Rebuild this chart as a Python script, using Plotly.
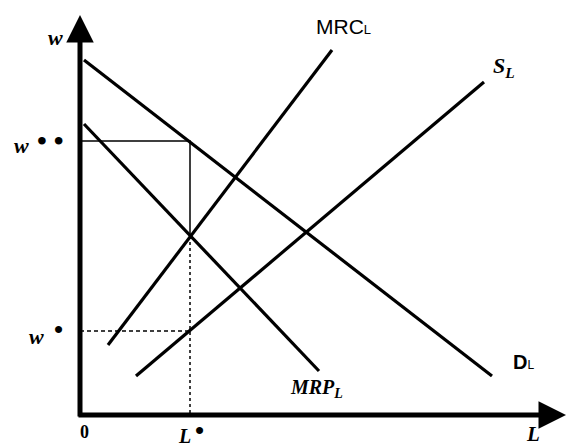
import plotly.graph_objects as go

# Curve endpoints (L, w)
D_L_x = [0.4, 41.2]
D_L_y = [35.5, 3.9]
MRP_x = [0.4, 23.9]
MRP_y = [29.1, 4.4]
MRC_x = [2.8, 25.2]
MRC_y = [7.0, 36.5]
S_L_x = [5.6, 40.4]
S_L_y = [3.9, 33.3]

L_star = 11.0
w_star = 8.4
w_2star = 27.4
w_int = 17.9

X_MIN, X_MAX = -8.0, 48.8
Y_MIN, Y_MAX = -3.2, 41.5
X_TIP, Y_TIP = 48.6, 40.0

fig = go.Figure()

line_style = dict(color="black", width=3.2)
for xs, ys in [(D_L_x, D_L_y), (MRP_x, MRP_y), (MRC_x, MRC_y), (S_L_x, S_L_y)]:
    fig.add_trace(go.Scatter(x=xs, y=ys, mode="lines", line=line_style,
                             hoverinfo="skip", showlegend=False))

# w** horizontal and vertical solid thin lines
fig.add_trace(go.Scatter(x=[0, L_star, L_star], y=[w_2star, w_2star, w_int], mode="lines",
                         line=dict(color="black", width=1.5), showlegend=False, hoverinfo="skip"))
# dotted vertical below intersection
fig.add_trace(go.Scatter(x=[L_star, L_star], y=[w_int, 0], mode="lines",
                         line=dict(color="black", width=1.5, dash="dot"), showlegend=False, hoverinfo="skip"))
# dashed horizontal w*
fig.add_trace(go.Scatter(x=[0, L_star], y=[w_star, w_star], mode="lines",
                         line=dict(color="black", width=1.5, dash="4px,3px"), showlegend=False, hoverinfo="skip"))

# axes with arrows
fig.add_annotation(x=0, y=Y_TIP, ax=0, ay=-0.3, xref="x", yref="y", axref="x", ayref="y",
                   showarrow=True, arrowhead=2, arrowwidth=5, arrowsize=1.1, arrowcolor="black", text="")
fig.add_annotation(x=X_TIP, y=0, ax=-0.3, ay=0, xref="x", yref="y", axref="x", ayref="y",
                   showarrow=True, arrowhead=2, arrowwidth=5, arrowsize=1.1, arrowcolor="black", text="")

serif = "Liberation Serif"
sans = "Liberation Sans"

def label(x, y, text, family, size, color="black"):
    fig.add_annotation(x=x, y=y, xref="x", yref="y", text=text, showarrow=False,
                       font=dict(family=family, size=size, color=color),
                       xanchor="center", yanchor="middle")

label(-2.5, 37.8, "<b><i>w</i></b>", serif, 22)
# w**
label(-5.9, 27.0, "<b><i>w</i></b>", serif, 22)
label(-3.0, 27.5, "<b>• •</b>", serif, 28)
# w*
label(-4.4, 7.9, "<b><i>w</i></b>", serif, 22)
label(-2.2, 8.6, "<b>•</b>", serif, 26)
label(0.4, -1.7, "<b>0</b>", serif, 18)
# L*
label(10.4, -2.1, "<b><i>L</i></b>", serif, 20)
label(11.9, -1.5, "<b>•</b>", serif, 26)
label(45.3, -1.9, "<b><i>L</i></b>", serif, 21)
label(26.3, 38.9, "MRC<span style='font-size:13px'>L</span>", sans, 21)
label(42.4, 34.8, "<b><i>S<sub>L</sub></i></b>", serif, 22)
label(44.3, 5.3, "<b>D</b><span style='font-size:12px'>L</span>", sans, 20)
label(23.6, 2.7, "<b><i>MRP<sub>L</sub></i></b>", serif, 20)

fig.update_xaxes(range=[X_MIN, X_MAX], visible=False)
fig.update_yaxes(range=[Y_MIN, Y_MAX], visible=False)
fig.update_layout(width=568, height=447, margin=dict(l=0, r=0, t=0, b=0),
                  plot_bgcolor="white", paper_bgcolor="white", showlegend=False)

fig.write_html("out.html", config={"displayModeBar": False},
               post_script="document.body.style.margin='0';document.body.style.overflow='hidden';")
